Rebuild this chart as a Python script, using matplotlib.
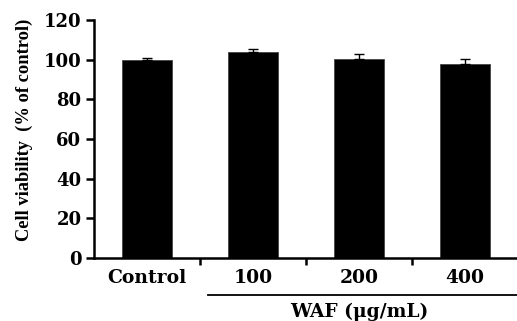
import numpy as np
import matplotlib.pyplot as plt
from matplotlib.transforms import blended_transform_factory

# DADOS
grupos = ['Control', '100', '200', '400']
viabilidade = [100.0, 103.7, 100.3, 97.7]
erro = [0.9, 1.7, 2.7, 2.6]

plt.rcParams['font.family'] = 'DejaVu Serif'
plt.rcParams['font.weight'] = 'bold'
plt.rcParams['axes.labelweight'] = 'bold'

fig = plt.figure(figsize=(5.17, 3.21), dpi=100)
ax = fig.add_axes([0.1818, 0.196, 0.8202, 0.7414])

x = np.arange(len(grupos))
ax.bar(x, viabilidade, width=0.47, color='black', edgecolor='#444444', linewidth=0.6,
       yerr=[np.zeros(len(erro)), erro], capsize=3.6,
       error_kw=dict(elinewidth=1.0, capthick=1.0, ecolor='black'))

ax.set_xlim(-0.5, 3.5)
ax.set_ylim(0, 120)
ax.set_yticks(range(0, 121, 20))
ax.set_xticks(x)
ax.set_xticklabels(grupos)
ax.set_xticks(x[:-1] + 0.5, minor=True)
ax.tick_params(axis='x', which='major', length=0, pad=8, labelsize=13.5)
ax.tick_params(axis='x', which='minor', length=5, width=1.8, direction='out')
ax.tick_params(axis='y', length=6, width=1.8, labelsize=13, pad=3)

for s in ['top', 'right']:
    ax.spines[s].set_visible(False)
for s in ['left', 'bottom']:
    ax.spines[s].set_linewidth(1.8)

ax.set_ylabel('Cell viability  (% of control)', fontsize=13.3,
              family='Liberation Serif')
ax.yaxis.set_label_coords(-0.144, 0.538)

# linha de agrupamento WAF
trans = blended_transform_factory(ax.transData, ax.transAxes)
ax.plot([0.575, 3.55], [-0.155, -0.155], color='black', lw=1.3,
        transform=trans, clip_on=False)
ax.text(2.0, -0.225, 'WAF (\u03bcg/mL)', transform=trans, ha='center', va='center',
        fontsize=13.5)

fig.savefig('out.png', dpi=100)
